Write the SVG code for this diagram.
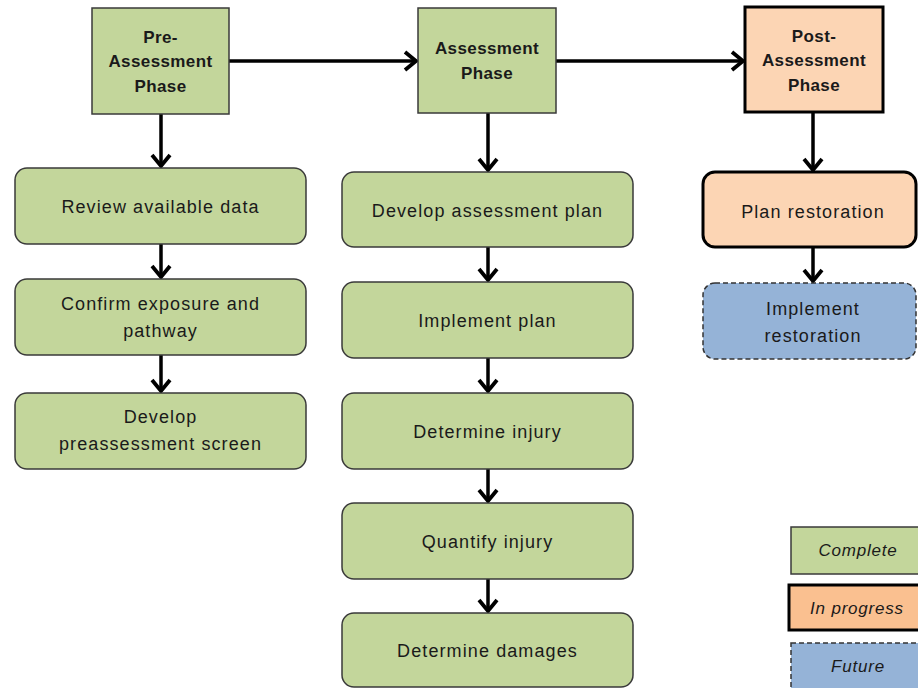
<svg xmlns="http://www.w3.org/2000/svg" width="918" height="688" viewBox="0 0 918 688">
<style>
text{font-family:"Liberation Sans",Arial,sans-serif;fill:#1a1a1a;text-anchor:middle}
.h{font-weight:bold;font-size:17px;letter-spacing:0.4px}
.t{font-size:18px;letter-spacing:1.1px}
.l{font-size:17px;font-style:italic;letter-spacing:0.8px}
.g{fill:#c3d69b;stroke:#3a3a3a;stroke-width:1.5}
.o{fill:#fcd5b4;stroke:#000;stroke-width:3}
.o2{fill:#fac090;stroke:#000;stroke-width:3}
.b{fill:#95b3d7;stroke:#333;stroke-width:1.5;stroke-dasharray:5 3}
.c{stroke:#000;stroke-width:3.5;fill:none;marker-end:url(#ah)}
</style>
<defs>
<marker id="ah" markerUnits="userSpaceOnUse" markerWidth="30" markerHeight="30" viewBox="-15 -15 30 30" refX="0" refY="0" orient="auto">
<path d="M-11,-9 L0,0 L-11,9" fill="none" stroke="#000" stroke-width="3.8"/>
</marker>
</defs>
<rect width="918" height="688" fill="#fff"/>
<g id="connectors">
<path class="c" d="M229,61 H416"/>
<path class="c" d="M556,61 H743"/>
<path class="c" d="M161,114 V166"/>
<path class="c" d="M161,244 V277"/>
<path class="c" d="M161,355 V391"/>
<path class="c" d="M488,113 V170"/>
<path class="c" d="M488,247 V280"/>
<path class="c" d="M488,358 V391"/>
<path class="c" d="M488,469 V501"/>
<path class="c" d="M488,579 V611"/>
<path class="c" d="M813,112 V170"/>
<path class="c" d="M813,247 V281"/>
</g>
<g id="pre">
<rect class="g" x="92" y="8" width="137" height="106"/>
<text class="h" x="160.5" y="43">Pre-</text>
<text class="h" x="160.5" y="67">Assessment</text>
<text class="h" x="160.5" y="92">Phase</text>
</g>
<g id="assess">
<rect class="g" x="418" y="8" width="138" height="105"/>
<text class="h" x="487" y="54">Assessment</text>
<text class="h" x="487" y="79">Phase</text>
</g>
<g id="post">
<rect class="o" x="745" y="7" width="138" height="105"/>
<text class="h" x="814" y="42">Post-</text>
<text class="h" x="814" y="66">Assessment</text>
<text class="h" x="814" y="91">Phase</text>
</g>
<g id="review">
<rect class="g" x="15" y="168" width="291" height="76" rx="12"/>
<text class="t" x="160.5" y="213">Review available data</text>
</g>
<g id="confirm">
<rect class="g" x="15" y="279" width="291" height="76" rx="12"/>
<text class="t" x="160.5" y="310">Confirm exposure and</text>
<text class="t" x="160.5" y="337">pathway</text>
</g>
<g id="screen">
<rect class="g" x="15" y="393" width="291" height="76" rx="12"/>
<text class="t" x="160.5" y="423">Develop</text>
<text class="t" x="160.5" y="450">preassessment screen</text>
</g>
<g id="plan">
<rect class="g" x="342" y="172" width="291" height="75" rx="12"/>
<text class="t" x="487.5" y="217">Develop assessment plan</text>
</g>
<g id="implement">
<rect class="g" x="342" y="282" width="291" height="76" rx="12"/>
<text class="t" x="487.5" y="327">Implement  plan</text>
</g>
<g id="determine">
<rect class="g" x="342" y="393" width="291" height="76" rx="12"/>
<text class="t" x="487.5" y="438">Determine injury</text>
</g>
<g id="quantify">
<rect class="g" x="342" y="503" width="291" height="76" rx="12"/>
<text class="t" x="487.5" y="548">Quantify injury</text>
</g>
<g id="damages">
<rect class="g" x="342" y="613" width="291" height="74" rx="12"/>
<text class="t" x="487.5" y="657">Determine damages</text>
</g>
<g id="restplan">
<rect class="o" x="703" y="172" width="213" height="75" rx="12"/>
<text class="t" x="813" y="218">Plan restoration</text>
</g>
<g id="restimpl">
<rect class="b" x="703" y="283" width="213" height="76" rx="12"/>
<text class="t" x="813" y="315">Implement</text>
<text class="t" x="813" y="342">restoration</text>
</g>
<g id="legend">
<rect class="g" x="791" y="527" width="132" height="47"/>
<text class="l" x="858" y="556">Complete</text>
<rect class="o2" x="789" y="585" width="134" height="45"/>
<text class="l" x="857" y="614">In progress</text>
<rect class="b" x="791" y="643" width="132" height="50"/>
<text class="l" x="858" y="672">Future</text>
</g>
</svg>
